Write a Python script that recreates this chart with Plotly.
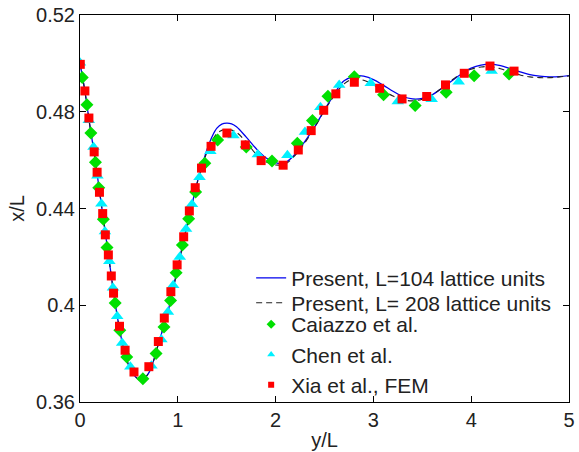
import plotly.graph_objects as go

# Present, L=104 (solid blue)
x_104 = [0.0, 0.05, 0.1, 0.15, 0.2, 0.25, 0.3, 0.35, 0.4, 0.45, 0.5, 0.55, 0.6, 0.63, 0.7, 0.75, 0.8, 0.85,
         0.9, 0.95, 1.0, 1.05, 1.1, 1.15, 1.2, 1.25, 1.3, 1.35, 1.4, 1.45, 1.5, 1.55, 1.6, 1.7, 1.8, 1.9,
         2.0, 2.05, 2.1, 2.2, 2.3, 2.4, 2.5, 2.6, 2.65, 2.7, 2.8, 2.85, 2.9, 3.0, 3.1, 3.2, 3.3, 3.4, 3.5,
         3.6, 3.7, 3.8, 3.9, 4.0, 4.1, 4.2, 4.3, 4.4, 4.5, 4.6, 4.7, 4.8, 4.9, 5.0]
y_104 = [0.5000, 0.4885, 0.4745, 0.4615, 0.4470, 0.4325, 0.4180, 0.4035, 0.3910, 0.3815, 0.3750, 0.3712,
         0.3693, 0.3688, 0.3718, 0.3768, 0.3838, 0.3905, 0.3975, 0.4065, 0.4155, 0.4250, 0.4340, 0.4425,
         0.4510, 0.4580, 0.4645, 0.4697, 0.4732, 0.4749, 0.4753, 0.4750, 0.4738, 0.4695, 0.4648, 0.4610,
         0.4590, 0.4586, 0.4590, 0.4624, 0.4678, 0.4738, 0.4808, 0.4873, 0.4905, 0.4928, 0.4946, 0.4949,
         0.4947, 0.4933, 0.4910, 0.4885, 0.4863, 0.4853, 0.4855, 0.4870, 0.4897, 0.4927, 0.4956, 0.4980,
         0.4993, 0.4997, 0.4991, 0.4978, 0.4965, 0.4953, 0.4947, 0.4944, 0.4945, 0.4949]

# Present, L=208 (dashed black)
x_208 = [0.0, 0.05, 0.1, 0.15, 0.2, 0.25, 0.3, 0.35, 0.4, 0.45, 0.5, 0.55, 0.6, 0.63, 0.7, 0.75, 0.8, 0.85,
         0.9, 0.95, 1.0, 1.05, 1.1, 1.15, 1.2, 1.25, 1.3, 1.35, 1.4, 1.45, 1.5, 1.55, 1.6, 1.7, 1.8, 1.9,
         2.0, 2.1, 2.2, 2.3, 2.4, 2.5, 2.6, 2.7, 2.8, 2.9, 3.0, 3.1, 3.2, 3.3, 3.4, 3.5, 3.6, 3.7, 3.8,
         3.9, 4.0, 4.1, 4.2, 4.3, 4.4, 4.5, 4.6, 4.7, 4.8, 4.9, 5.0]
y_208 = [0.5000, 0.4885, 0.4745, 0.4615, 0.4470, 0.4325, 0.4180, 0.4035, 0.3910, 0.3815, 0.3750, 0.3712,
         0.3693, 0.3689, 0.3718, 0.3768, 0.3838, 0.3905, 0.3975, 0.4065, 0.4155, 0.4250, 0.4340, 0.4425,
         0.4508, 0.4575, 0.4635, 0.4680, 0.4710, 0.4723, 0.4727, 0.4724, 0.4715, 0.4675, 0.4625, 0.4593,
         0.4580, 0.4585, 0.4620, 0.4672, 0.4735, 0.4805, 0.4866, 0.4915, 0.4936, 0.4930, 0.4912, 0.4888,
         0.4865, 0.4850, 0.4845, 0.4852, 0.4870, 0.4898, 0.4930, 0.4958, 0.4976, 0.4985, 0.4986, 0.4978,
         0.4964, 0.4952, 0.4944, 0.4941, 0.4941, 0.4944, 0.4948]

# Caiazzo et al. (green diamonds)
x_caiazzo = [0.023, 0.071, 0.111, 0.158, 0.192, 0.239, 0.276, 0.36, 0.407, 0.478, 0.643, 0.778, 0.859,
             0.926, 0.983, 1.047, 1.111, 1.182, 1.276, 1.407, 1.70, 1.963, 2.222, 2.377, 2.535, 2.805,
             3.104, 3.427, 3.744, 4.03, 4.387]
y_caiazzo = [0.4942, 0.4829, 0.4712, 0.4591, 0.4486, 0.4356, 0.4239, 0.4009, 0.3897, 0.3786, 0.3696,
             0.3801, 0.3910, 0.4020, 0.4134, 0.4249, 0.4358, 0.4468, 0.4587, 0.4683, 0.4654, 0.4596,
             0.4670, 0.4764, 0.4864, 0.4945, 0.4870, 0.4826, 0.4881, 0.4949, 0.4956]

# Chen et al. (cyan triangles)
x_chen = [0.0, 0.09, 0.138, 0.178, 0.219, 0.255, 0.30, 0.337, 0.38, 0.431, 0.515, 0.73, 0.832, 0.899,
          0.953, 1.02, 1.084, 1.145, 1.222, 1.333, 1.569, 1.818, 2.121, 2.30, 2.458, 2.65, 2.973, 3.249,
          3.596, 3.872, 4.209]
y_chen = [0.5003, 0.4765, 0.4654, 0.4535, 0.4420, 0.4305, 0.4182, 0.4072, 0.3955, 0.3844, 0.3746,
          0.3750, 0.3858, 0.3972, 0.4083, 0.4200, 0.4315, 0.4418, 0.4529, 0.4637, 0.4702, 0.4623,
          0.4620, 0.4716, 0.4819, 0.4911, 0.4918, 0.4842, 0.4852, 0.4924, 0.4968]

# Xia et al., FEM (red squares)
x_xia = [0.003, 0.05, 0.091, 0.145, 0.175, 0.199, 0.232, 0.259, 0.29, 0.32, 0.343, 0.404, 0.461, 0.552,
         0.704, 0.801, 0.862, 0.929, 0.993, 1.06, 1.118, 1.178, 1.242, 1.34, 1.502, 1.69, 1.852, 2.077,
         2.232, 2.364, 2.492, 2.616, 2.805, 3.064, 3.293, 3.545, 3.737, 3.929, 4.192, 4.438]
y_xia = [0.4996, 0.4886, 0.4774, 0.4634, 0.4550, 0.4467, 0.4379, 0.4291, 0.4208, 0.4121, 0.4050,
         0.3913, 0.3814, 0.3724, 0.3746, 0.3850, 0.3947, 0.4056, 0.4167, 0.4283, 0.4390, 0.4486,
         0.4567, 0.4657, 0.4712, 0.4663, 0.4598, 0.4579, 0.4642, 0.4722, 0.4806, 0.4874, 0.4922,
         0.4897, 0.4853, 0.4863, 0.4911, 0.4959, 0.4989, 0.4968]

x_ticks = [0, 1, 2, 3, 4, 5]
y_ticks = [0.36, 0.40, 0.44, 0.48, 0.52]
y_tick_text = ["0.36", "0.4", "0.44", "0.48", "0.52"]

names = ["Present, L=104 lattice units", "Present, L= 208 lattice units",
         "Caiazzo et al.", "Chen et al.", "Xia et al., FEM"]

FONT = "Liberation Sans, Arial, sans-serif"
GREEN, CYAN, RED = "#00e000", "#00f0ff", "#ff0000"

fig = go.Figure()
fig.add_trace(go.Scatter(x=x_104, y=y_104, mode="lines", line=dict(color="#0000ee", width=1.3, shape="spline"),
                         name=names[0], legend="legend"))
fig.add_trace(go.Scatter(x=x_208, y=y_208, mode="lines",
                         line=dict(color="#222222", width=1.1, dash="6px,4px", shape="spline"),
                         name=names[1], legend="legend3"))
fig.add_trace(go.Scatter(x=x_caiazzo, y=y_caiazzo, mode="markers", showlegend=False,
                         marker=dict(symbol="diamond", size=10, color=GREEN, line=dict(width=0)),
                         name=names[2]))
fig.add_trace(go.Scatter(x=x_chen, y=y_chen, mode="markers", showlegend=False,
                         marker=dict(symbol="triangle-up", size=11, color=CYAN, line=dict(width=0)),
                         name=names[3]))
fig.add_trace(go.Scatter(x=x_xia, y=y_xia, mode="markers", showlegend=False,
                         marker=dict(symbol="square", size=9, color=RED, line=dict(width=0)),
                         name=names[4]))
# legend entries with smaller symbols (as in the original legend)
for nm, sym, col, sz in [(names[2], "diamond", GREEN, 7), (names[3], "triangle-up", CYAN, 7),
                         (names[4], "square", RED, 6)]:
    fig.add_trace(go.Scatter(x=[None], y=[None], mode="markers", name=nm, legend="legend2",
                             marker=dict(symbol=sym, size=sz, color=col, line=dict(width=0))))

axis_common = dict(showgrid=False, zeroline=False, showline=True, linecolor="black", linewidth=1,
                   mirror="ticks", ticks="inside", ticklen=6, tickcolor="black",
                   ticklabeloverflow="allow",
                   tickfont=dict(family=FONT, size=20, color="#222222"))

leg_common = dict(xanchor="left", bgcolor="rgba(0,0,0,0)", tracegroupgap=0, itemwidth=30,
                  itemsizing="trace", font=dict(family=FONT, size=21, color="#222222"))

fig.update_layout(
    width=579, height=452,
    margin=dict(l=80, r=4, t=13, b=50),
    paper_bgcolor="white", plot_bgcolor="white",
    font=dict(family=FONT, size=20, color="#222222"),
    xaxis=dict(range=[0, 5], tickvals=x_ticks, title=dict(text="y/L", standoff=2,
               font=dict(family=FONT, size=20)), **axis_common),
    yaxis=dict(range=[0.36, 0.52], tickvals=y_ticks, ticktext=y_tick_text,
               title=dict(text="x/L", standoff=6, font=dict(family=FONT, size=20)), **axis_common),
    legend=dict(x=0.35, y=0.3728, yanchor="top", **leg_common),
    legend3=dict(x=0.35, y=0.3085, yanchor="top", **leg_common),
    legend2=dict(x=0.35, y=-0.008, yanchor="bottom", **leg_common),
    showlegend=True,
)

fig.write_html("out.html")
